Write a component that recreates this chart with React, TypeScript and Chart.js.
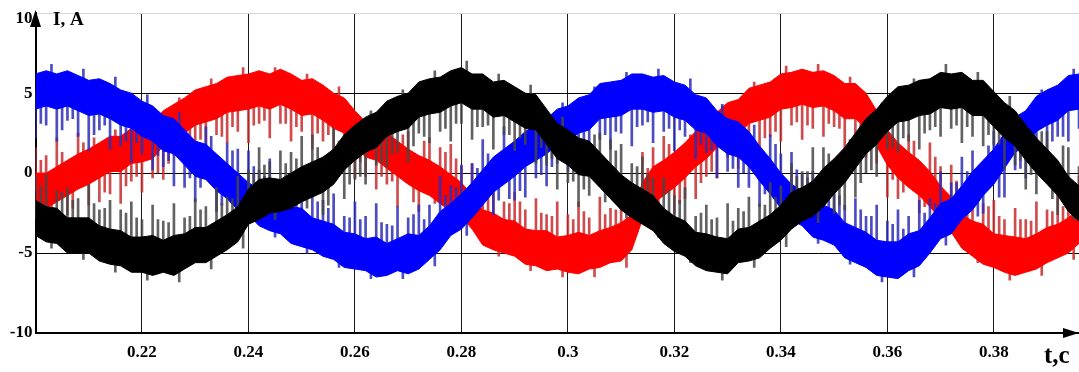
import { useEffect, useRef } from "react";
import { Chart, registerables } from "chart.js";

Chart.register(...registerables);

const FONT = "'Liberation Serif', 'Times New Roman', serif";

// sampling instants, s
const times = [
  0.200, 0.202, 0.204, 0.206, 0.208, 0.210, 0.212, 0.214, 0.216, 0.218,
  0.220, 0.222, 0.224, 0.226, 0.228, 0.230, 0.232, 0.234, 0.236, 0.238,
  0.240, 0.242, 0.244, 0.246, 0.248, 0.250, 0.252, 0.254, 0.256, 0.258,
  0.260, 0.262, 0.264, 0.266, 0.268, 0.270, 0.272, 0.274, 0.276, 0.278,
  0.280, 0.282, 0.284, 0.286, 0.288, 0.290, 0.292, 0.294, 0.296, 0.298,
  0.300, 0.302, 0.304, 0.306, 0.308, 0.310, 0.312, 0.314, 0.316, 0.318,
  0.320, 0.322, 0.324, 0.326, 0.328, 0.330, 0.332, 0.334, 0.336, 0.338,
  0.340, 0.342, 0.344, 0.346, 0.348, 0.350, 0.352, 0.354, 0.356, 0.358,
  0.360, 0.362, 0.364, 0.366, 0.368, 0.370, 0.372, 0.374, 0.376, 0.378,
  0.380, 0.382, 0.384, 0.386, 0.388, 0.390, 0.392, 0.394, 0.396,
];
// half-step offset of the in-between ripple samples, s
const HALF_STEP = 0.001;

// y-axis tick labels
const yTickLabels = ["-10", "-5", "0", "5", "10"];

// ---- blue phase: band upper / lower edge, ripple tips (on-step and half-step), A
const blueTop = [
  6.2, 6.4, 6.2, 6.4, 6.1, 5.8, 5.9, 5.6, 5.2, 5.0,
  4.5, 4.2, 3.6, 3.4, 2.7, 2.0, 1.8, 1.2, 0.6, 0.0,
  -0.6, -1.0, -1.3, -1.9, -2.1, -2.2, -2.8, -3.0, -3.2, -3.7,
  -3.8, -4.1, -4.0, -4.4, -4.1, -3.8, -3.9, -3.3, -2.4, -1.9,
  -1.3, -0.6, 0.2, 1.0, 1.5, 2.0, 2.6, 3.0, 3.4, 4.0,
  4.2, 4.7, 4.9, 5.6, 5.7, 5.8, 6.2, 6.2, 6.0, 6.1,
  5.7, 5.5, 4.9, 4.7, 3.9, 3.4, 3.2, 2.6, 1.7, 0.9,
  0.0, -0.7, -1.1, -1.8, -2.0, -2.3, -3.1, -3.4, -3.7, -4.2,
  -4.3, -4.3, -3.8, -3.6, -2.8, -1.9, -1.6, -0.8, 0.1, 0.8,
  1.5, 2.5, 3.5, 3.9, 4.8, 5.2, 5.5, 6.1, 6.2,
];
const blueBottom = [
  4.0, 4.2, 4.0, 4.2, 3.9, 3.6, 3.7, 3.4, 3.0, 2.8,
  2.3, 2.0, 1.4, 1.2, 0.5, -0.2, -0.4, -1.1, -1.6, -2.3,
  -2.6, -3.3, -3.6, -3.8, -4.4, -4.6, -4.8, -5.2, -5.4, -5.9,
  -6.0, -6.1, -6.5, -6.4, -6.1, -6.3, -6.0, -5.4, -4.8, -3.9,
  -3.5, -2.8, -2.0, -1.2, -0.7, -0.2, 0.4, 0.8, 1.2, 1.8,
  2.0, 2.5, 2.7, 3.4, 3.5, 3.6, 4.0, 4.0, 3.8, 3.9,
  3.5, 3.3, 2.7, 2.5, 1.7, 1.2, 1.0, 0.4, -0.5, -1.3,
  -2.2, -2.9, -3.3, -4.0, -4.2, -4.5, -5.3, -5.6, -5.9, -6.4,
  -6.5, -6.6, -6.1, -5.8, -5.0, -4.1, -3.8, -2.9, -2.3, -1.4,
  -0.7, 0.3, 1.3, 1.7, 2.6, 3.0, 3.3, 3.9, 4.0,
];
const blueSpike = [
  2.2, 3.0, 2.0, 3.3, 2.3, 1.4, 2.7, 1.5, 1.7, 0.7,
  1.2, 0.2, 0.4, -0.8, -0.9, -1.8, 2.9, -2.4, 1.9, 1.5,
  1.4, 0.2, 0.9, -0.9, -0.3, -1.1, -0.5, -1.7, -1.3, -2.7,
  -1.8, -2.7, -1.9, -3.2, -2.1, -2.8, -2.0, -2.0, -0.2, -0.8,
  0.5, 0.6, 2.1, -2.6, 2.9, -1.7, -1.5, -0.3, -0.8, 0.6,
  0.1, 1.5, 0.5, 2.1, 1.5, 2.5, 1.7, 3.0, 1.9, 2.6,
  1.4, 2.3, 0.9, 1.3, -0.3, 0.1, -0.9, -0.9, -2.1, 2.4,
  1.2, 1.3, -0.1, 0.1, -0.8, -0.2, -2.0, -1.6, -2.7, -2.0,
  -3.0, -2.3, -2.7, -1.7, -1.6, 0.1, -0.6, 1.0, 1.4, -2.5,
  2.6, -1.5, 0.2, -0.3, 1.4, 0.9, 2.3, 2.0, 2.8,
];
const blueSpikeHalf = [
  3.1, 6.8, 2.7, 3.4, 6.5, 2.4, 3.0, 6.0, 2.0, 1.9,
  4.9, 1.1, 0.8, 3.8, -0.3, -0.9, 2.3, -2.0, 1.4, -2.8,
  0.4, -0.2, -4.0, -0.8, -1.2, -5.0, -1.8, -2.2, -5.9, -2.8,
  -2.9, -6.6, -3.1, -3.3, -6.6, -2.6, -2.9, -5.8, -1.4, -0.9,
  -3.9, 0.3, 1.2, -1.7, -1.6, -1.1, 3.0, -0.1, 0.4, 4.4,
  1.0, 1.6, 5.4, 2.4, 2.6, 6.3, 2.9, 3.2, 6.5, 2.8,
  2.7, 5.9, 1.8, 1.4, 4.3, 0.3, 0.0, 3.0, -1.3, 1.8,
  -2.7, 0.2, -0.3, -4.4, -0.9, -1.4, -5.7, -2.3, -2.7, -6.8,
  -3.2, -3.5, -6.5, -2.5, -1.9, -4.5, -0.6, 0.1, -2.7, 1.7,
  -1.5, 2.9, 0.3, 0.8, 5.2, 2.0, 2.3, 6.5,
];

// ---- red phase
const redTop = [
  0.0, 0.0, 0.4, 0.8, 1.2, 1.5, 1.9, 2.3, 2.3, 2.8,
  2.9, 3.1, 3.9, 4.3, 4.7, 5.2, 5.4, 5.6, 6.0, 6.1,
  6.2, 6.4, 6.2, 6.5, 6.2, 5.8, 5.9, 5.5, 5.0, 4.7,
  3.9, 3.2, 3.0, 2.5, 2.0, 1.5, 1.1, 0.8, 0.4, -0.1,
  -0.6, -1.4, -2.3, -2.5, -2.9, -3.0, -3.5, -3.6, -3.6, -4.0,
  -3.9, -3.7, -3.9, -3.6, -3.4, -3.1, -2.6, -0.6, 0.4, 0.8,
  1.3, 1.9, 2.6, 3.1, 3.8, 4.4, 4.6, 5.3, 5.5, 5.7,
  6.2, 6.3, 6.5, 6.3, 6.4, 6.1, 5.6, 5.6, 5.0, 3.9,
  2.7, 1.9, 1.3, 0.8, 0.1, -0.8, -1.5, -2.6, -3.0, -3.2,
  -3.8, -3.9, -4.0, -4.1, -3.8, -3.4, -3.2, -2.8, -2.2,
];
const redBottom = [
  -2.2, -2.2, -1.8, -1.4, -1.0, -0.7, -0.3, 0.1, 0.1, 0.6,
  0.7, 0.9, 1.7, 2.1, 2.5, 3.0, 3.2, 3.4, 3.8, 3.9,
  4.0, 4.2, 4.0, 4.3, 4.0, 3.6, 3.7, 3.3, 2.8, 2.5,
  1.7, 1.0, 0.8, 0.3, -0.2, -0.7, -1.1, -1.4, -1.9, -2.4,
  -2.7, -3.5, -4.5, -4.8, -5.0, -5.2, -5.7, -5.8, -6.1, -6.0,
  -6.2, -6.3, -6.0, -5.9, -5.6, -5.5, -4.8, -2.9, -1.9, -1.4,
  -0.9, -0.3, 0.4, 0.9, 1.6, 2.2, 2.4, 3.1, 3.3, 3.5,
  4.0, 4.1, 4.3, 4.1, 4.2, 3.9, 3.4, 3.4, 2.8, 1.7,
  0.5, -0.3, -0.9, -1.4, -2.1, -2.9, -3.7, -4.7, -5.2, -5.7,
  -5.9, -6.2, -6.4, -6.2, -6.0, -5.6, -5.3, -5.0, -4.4,
];
const redSpike = [
  1.6, 1.1, 2.2, -2.6, 2.5, -2.0, -1.8, -1.3, -1.9, -0.5,
  -1.2, -0.3, -0.4, 1.1, 0.7, 1.7, 1.0, 2.4, 1.9, 2.6,
  1.9, 3.1, 2.2, 3.1, 2.0, 2.6, 1.5, 2.0, 0.9, 1.4,
  -0.3, -0.2, -1.0, -0.7, -2.1, 2.6, -2.4, 2.2, 1.6, 1.8,
  0.4, 0.6, -1.0, -0.4, -1.8, -1.2, -2.3, -1.6, -2.6, -1.8,
  -2.6, -1.8, -2.8, -1.5, -2.2, -1.3, -1.6, 1.3, 1.6, 2.3,
  -2.5, -1.6, -1.6, -0.2, -0.3, 1.0, 0.3, 2.1, 1.5, 2.3,
  2.0, 3.0, 2.1, 2.8, 2.3, 2.9, 1.4, 2.2, 1.0, 0.6,
  -1.5, -1.6, 2.4, -2.5, 1.9, 0.4, 0.5, -1.5, -1.1, -1.9,
  -1.7, -2.9, -2.2, -2.9, -1.8, -2.3, -1.3, -1.5, -0.2,
];
const redSpikeHalf = [
  0.8, -2.6, 1.3, -2.2, 1.9, 2.2, -1.2, 2.7, -0.8, -0.2,
  3.3, 0.0, 0.6, 4.7, 1.4, 2.1, 5.9, 2.3, 2.9, 6.6,
  3.0, 3.3, 6.6, 3.1, 2.9, 6.2, 2.5, 2.4, 5.4, 1.6,
  0.7, 3.7, -0.2, -0.5, 2.4, -1.8, 2.0, -1.9, 1.3, 0.9,
  -3.1, -0.4, -1.3, -5.2, -1.9, -1.8, -6.1, -2.5, -2.7, -6.5,
  -2.9, -2.4, -6.5, -2.6, -2.3, -5.9, -1.3, 0.3, -2.4, 1.8,
  -1.9, 2.4, -0.6, 0.1, 4.2, 1.2, 1.5, 5.7, 2.2, 2.6,
  6.7, 3.2, 3.0, 6.8, 3.1, 2.8, 6.0, 2.3, 1.7, 4.3,
  -0.4, -1.2, 2.0, -2.1, 1.0, -3.3, -0.5, -1.5, -5.6, -2.1,
  -2.7, -6.7, -2.9, -3.0, -6.4, -2.4, -2.1, -5.4,
];

// ---- black phase
const blackTop = [
  -1.7, -2.1, -2.2, -2.8, -2.8, -2.8, -3.3, -3.5, -3.6, -4.0,
  -4.0, -3.9, -4.2, -3.9, -3.8, -3.4, -3.4, -3.0, -2.6, -2.1,
  -1.0, -0.4, -0.3, -0.4, 0.0, 0.4, 0.7, 1.0, 1.5, 2.4,
  3.0, 3.5, 3.8, 4.5, 4.8, 5.0, 5.7, 5.9, 6.0, 6.4,
  6.6, 6.2, 6.2, 5.7, 5.8, 5.4, 5.0, 4.9, 4.0, 3.1,
  2.7, 2.2, 2.0, 1.3, 0.6, -0.1, -0.6, -1.0, -1.4, -2.2,
  -2.7, -3.0, -3.7, -3.8, -4.0, -4.1, -3.5, -3.4, -3.0, -2.6,
  -2.0, -1.2, -0.9, -0.5, 0.3, 0.9, 1.6, 2.5, 3.4, 4.0,
  4.8, 5.4, 5.5, 5.8, 5.9, 6.3, 6.2, 6.3, 5.8, 5.8,
  5.1, 4.4, 3.9, 3.0, 2.2, 1.5, 0.8, -0.2, -0.8,
];
const blackBottom = [
  -3.9, -4.3, -4.4, -5.0, -5.0, -5.0, -5.5, -5.7, -5.8, -6.2,
  -6.2, -6.4, -6.2, -6.4, -6.0, -5.6, -5.6, -5.2, -4.8, -4.3,
  -3.2, -2.9, -2.5, -2.4, -2.2, -1.8, -1.5, -1.2, -0.7, 0.2,
  0.8, 1.3, 1.6, 2.3, 2.6, 2.8, 3.5, 3.7, 3.8, 4.2,
  4.4, 4.0, 4.0, 3.5, 3.6, 3.2, 2.8, 2.7, 1.8, 0.9,
  0.5, -0.1, -0.2, -0.9, -1.6, -2.3, -2.8, -3.2, -3.6, -4.4,
  -4.9, -5.2, -5.8, -6.1, -6.2, -6.3, -5.6, -5.5, -5.3, -4.7,
  -4.2, -3.5, -3.0, -2.7, -2.1, -1.3, -0.6, 0.3, 1.2, 1.8,
  2.6, 3.2, 3.3, 3.6, 3.7, 4.1, 4.0, 4.1, 3.6, 3.6,
  2.9, 2.2, 1.7, 0.8, 0.0, -0.7, -1.4, -2.4, -3.0,
];
const blackSpike = [
  -0.2, -0.1, -1.1, -0.9, -1.6, -0.7, -2.3, -1.7, -2.3, -1.8,
  -2.9, -2.0, -3.0, -1.9, -2.8, -1.6, -2.1, -0.9, -1.5, -0.2,
  0.2, 1.6, 0.7, 1.4, 1.3, 2.3, 2.4, -2.6, 2.8, -1.6,
  -0.4, -0.7, 0.5, 0.4, 1.3, 0.7, 2.5, 1.9, 2.6, 2.0,
  3.1, 2.1, 2.9, 1.5, 2.4, 1.4, 1.8, 0.6, 0.5, -1.0,
  -0.6, -2.1, -1.4, 2.5, 2.1, 1.8, 0.6, 1.0, -0.3, -0.3,
  -1.4, -0.9, -2.7, -2.0, -2.8, -1.9, -2.2, -1.5, -1.9, -0.6,
  -0.8, 0.6, 0.1, 1.6, 1.6, -2.5, -2.3, -1.5, 0.0, -0.2,
  1.5, 1.3, 2.0, 1.5, 2.7, 2.3, 2.8, 1.9, 2.3, 1.7,
  1.8, 0.2, 0.5, -1.0, -1.3, 2.6, -2.6, 1.6, 0.4,
];
const blackSpikeHalf = [
  -0.8, -4.7, -1.2, -1.7, -5.4, -1.9, -2.2, -6.2, -2.5, -2.8,
  -6.7, -2.9, -3.1, -6.8, -2.7, -2.3, -6.0, -1.9, -1.6, -4.7,
  0.0, 0.5, -2.9, 0.6, 0.9, -2.2, 1.6, -2.0, 2.0, -0.7,
  -0.2, 3.9, 0.6, 1.2, 5.2, 1.7, 2.3, 6.4, 2.8, 3.1,
  7.0, 2.9, 3.0, 6.2, 2.4, 2.2, 5.5, 1.6, 0.9, 3.5,
  -0.5, -1.0, 2.4, -1.8, 1.4, -2.8, 0.4, -0.1, -4.0, -1.1,
  -1.7, -5.6, -2.5, -2.9, -6.7, -3.0, -2.4, -5.9, -2.0, -1.5,
  -4.6, -0.2, 0.1, -3.1, 1.2, -2.0, 2.1, -0.6, 0.2, 4.4,
  1.6, 2.2, 5.9, 2.5, 2.9, 6.8, 3.0, 2.9, 6.3, 2.4,
  1.8, 4.8, 0.8, -0.1, 2.6, -1.6, 1.7, -2.9,
];

const pts = (ys: number[]) => times.map((t, i) => ({ x: t, y: ys[i] }));
const spikes = (top: number[], bottom: number[], tip: number[]) =>
  times.map((t, i) => ({ x: t, y: [(top[i] + bottom[i]) / 2, tip[i]] }));
const halfSpikes = (top: number[], bottom: number[], tip: number[]) =>
  tip.map((v, i) => ({ x: times[i] + HALF_STEP, y: [(top[i] + bottom[i]) / 2, v] }));

function phase(
  name: string,
  color: string,
  spikeColor: string,
  top: number[],
  bottom: number[],
  tip: number[],
  tipHalf: number[],
  order: number
): any[] {
  return [
    {
      type: "line",
      label: name + " upper",
      data: pts(top),
      borderColor: color,
      backgroundColor: color,
      borderWidth: 1,
      pointRadius: 0,
      tension: 0,
      fill: "+1",
      order,
    },
    {
      type: "line",
      label: name + " lower",
      data: pts(bottom),
      borderColor: color,
      backgroundColor: color,
      borderWidth: 1,
      pointRadius: 0,
      tension: 0,
      fill: false,
      order,
    },
    {
      type: "bar",
      label: name + " ripple",
      data: spikes(top, bottom, tip),
      backgroundColor: spikeColor,
      barThickness: 2,
      grouped: false,
      order,
    },
    {
      type: "bar",
      label: name + " ripple half-step",
      data: halfSpikes(top, bottom, tipHalf),
      backgroundColor: spikeColor,
      barThickness: 2,
      grouped: false,
      order,
    },
  ];
}

const decorations = {
  id: "decorations",
  afterDraw(chart: any) {
    const { ctx, chartArea: a } = chart;
    ctx.save();
    ctx.fillStyle = "#000";
    ctx.beginPath();
    ctx.moveTo(a.left, 10);
    ctx.lineTo(a.left - 5.5, 27);
    ctx.lineTo(a.left + 5.5, 27);
    ctx.closePath();
    ctx.fill();
    ctx.beginPath();
    ctx.moveTo(a.right, a.bottom);
    ctx.lineTo(a.right - 16, a.bottom - 5);
    ctx.lineTo(a.right - 16, a.bottom + 5);
    ctx.closePath();
    ctx.fill();
    // top tick label sits a little below its grid line in the original
    ctx.font = `bold 17px ${FONT}`;
    ctx.textAlign = "right";
    ctx.textBaseline = "middle";
    ctx.fillText(yTickLabels[4], a.left - 3, 19);
    ctx.textBaseline = "alphabetic";
    ctx.textAlign = "left";
    ctx.font = `bold 19px ${FONT}`;
    ctx.fillText("I, A", 53, 25);
    ctx.font = `bold 25px ${FONT}`;
    ctx.fillText("t,c", 1044, 363);
    ctx.restore();
  },
};

export default function App() {
  const ref = useRef<HTMLCanvasElement>(null);

  useEffect(() => {
    document.body.style.margin = "0";
    const canvas = ref.current;
    if (!canvas) return;
    const tickFont = { family: FONT, size: 17, weight: "bold" as const };
    const chart = new Chart(canvas, {
      type: "line",
      data: {
        datasets: [
          ...phase("iC", "#000000", "rgba(70,70,70,0.85)", blackTop, blackBottom, blackSpike, blackSpikeHalf, 1),
          ...phase("iA", "#0000ff", "rgba(45,45,185,0.85)", blueTop, blueBottom, blueSpike, blueSpikeHalf, 2),
          ...phase("iB", "#ff0000", "rgba(200,45,45,0.85)", redTop, redBottom, redSpike, redSpikeHalf, 3),
        ],
      },
      options: {
        responsive: false,
        devicePixelRatio: 1,
        animation: false,
        layout: { padding: { top: 13, left: 0, right: 0, bottom: 0 } },
        plugins: { legend: { display: false }, tooltip: { enabled: false } },
        scales: {
          x: {
            type: "linear",
            min: 0.2,
            max: 0.396,
            offset: false,
            ticks: {
              stepSize: 0.02,
              includeBounds: false,
              autoSkip: false,
              maxRotation: 0,
              padding: 9,
              color: "#000",
              font: tickFont,
              callback: (v: any) =>
                Math.abs(Number(v) - 0.2) < 1e-9 ? "" : String(Number(Number(v).toFixed(2))),
            },
            grid: {
              color: (c: any) =>
                c.tick && Math.abs(c.tick.value - 0.2) < 1e-9 ? "rgba(0,0,0,0)" : "#1a1a1a",
              lineWidth: 1,
              drawTicks: false,
              offset: false,
            },
            border: { display: true, color: "#000", width: 2 },
            afterFit: (s: any) => {
              s.height = 39;
            },
          },
          y: {
            type: "linear",
            min: -10,
            max: 10,
            ticks: {
              stepSize: 5,
              padding: 3,
              color: "#000",
              font: tickFont,
              callback: (v: any) => {
                const idx = [-10, -5, 0, 5, 10].indexOf(Number(v));
                return idx === 4 || idx < 0 ? "" : yTickLabels[idx];
              },
            },
            grid: {
              color: (c: any) =>
                c.tick && c.tick.value === 10
                  ? "#d6d6d6"
                  : c.tick && c.tick.value === -10
                  ? "rgba(0,0,0,0)"
                  : "#000",
              lineWidth: 1,
              drawTicks: false,
            },
            border: { display: true, color: "#000", width: 2 },
            afterFit: (s: any) => {
              s.width = 35.5;
            },
          },
        },
      } as any,
      plugins: [decorations],
    });
    return () => chart.destroy();
  }, []);

  return (
    <div style={{ width: 1079, height: 372 }}>
      <canvas ref={ref} width={1079} height={372} style={{ display: "block" }} />
    </div>
  );
}
